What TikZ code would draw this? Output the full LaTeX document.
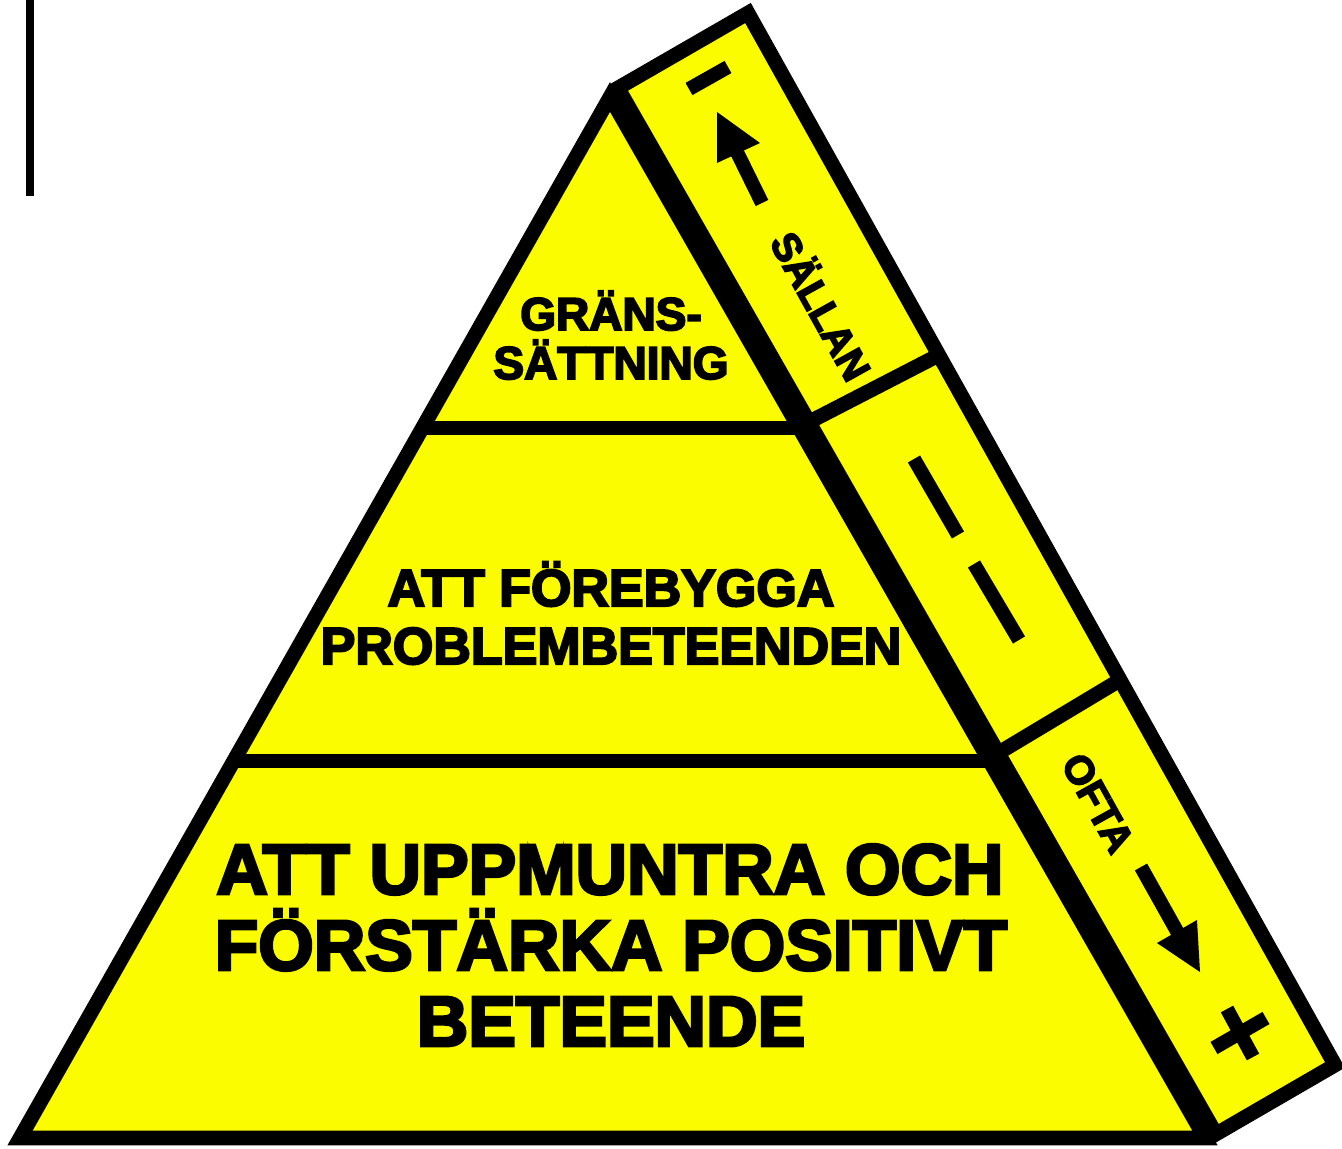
\documentclass[tikz,border=0pt]{standalone}
\usepackage{fontspec}
\newfontfamily\heavyfont{Liberation Sans Bold}[FakeBold=4]
\definecolor{pyellow}{RGB}{252,252,0}
\begin{document}
\begin{tikzpicture}[x=0.75pt,y=-0.75pt,
  outline/.style={draw=black, line width=11pt, line join=miter, fill=pyellow},
  divider/.style={draw=black, line width=11pt},
  bar/.style={draw=black, line width=10.5pt},
  lvl/.style={text=black, inner sep=0pt, anchor=base},
  lvlA/.style={lvl, font=\heavyfont\fontsize{34.5}{40}\selectfont},
  lvlB/.style={lvl, font=\heavyfont\fontsize{39}{44}\selectfont},
  lvlC/.style={lvl, font=\heavyfont\fontsize{53.5}{58}\selectfont},
  side/.style={text=black, inner sep=0pt, rotate=-61, font=\heavyfont\fontsize{30}{34}\selectfont}]
\useasboundingbox (0,0) rectangle (1342,1149);
% named corner points
\coordinate (L) at (20,1138);
\coordinate (T) at (610,97);
\coordinate (R) at (1205,1138);
\coordinate (B1) at (618,88);
\coordinate (B2) at (748,13);
\coordinate (B3) at (1335,1065);
\coordinate (B4) at (1216,1134);
% side band
\filldraw[outline] (B1) -- (B2) -- (B3) -- (B4) -- cycle;
\draw[divider] (813,420) -- (939,355);
\draw[divider] (1000,752) -- (1120,680);
% pyramid
\fill[pyellow] (L) -- (T) -- (R) -- cycle;
\draw[divider] (422,428) -- (799,428);
\draw[divider] (234,761) -- (989,761);
\draw[outline, fill=none] (L) -- (T) -- (R) -- cycle;
% symbols in band
\draw[bar] (689,89) -- (728,67);
\draw[bar] (762,203) -- (732,142);
\fill (717,112) -- (717,163) -- (760,143) -- cycle;
\draw[bar] (914,459) -- (958,535);
\draw[bar] (974,564) -- (1019,640);
\draw[bar] (1141,867) -- (1183,942);
\fill (1200,972) -- (1157,943) -- (1197,920) -- cycle;
\draw[bar] (1214,1048) -- (1266,1018);
\draw[bar] (1227,1009) -- (1253,1057);
% left line
\draw[line width=6pt] (30,0) -- (30,196);
% texts
\node[lvlA] (g1) at (611,330) {GRÄNS-};
\node[lvlA] (g2) at (611,379) {SÄTTNING};
\node[lvlB] (f1) at (611,606) {ATT FÖREBYGGA};
\node[lvlB] (f2) at (611,664) {PROBLEMBETEENDEN};
\node[lvlC] (u1) at (610,894) {ATT UPPMUNTRA OCH};
\node[lvlC] (u2) at (611,970) {FÖRSTÄRKA POSITIVT};
\node[lvlC] (u3) at (611,1046) {BETEENDE};
\node[side] (s1) at (823,305) {SÄLLAN};
\node[side] (s2) at (1098,803) {OFTA};
\end{tikzpicture}
\end{document}
